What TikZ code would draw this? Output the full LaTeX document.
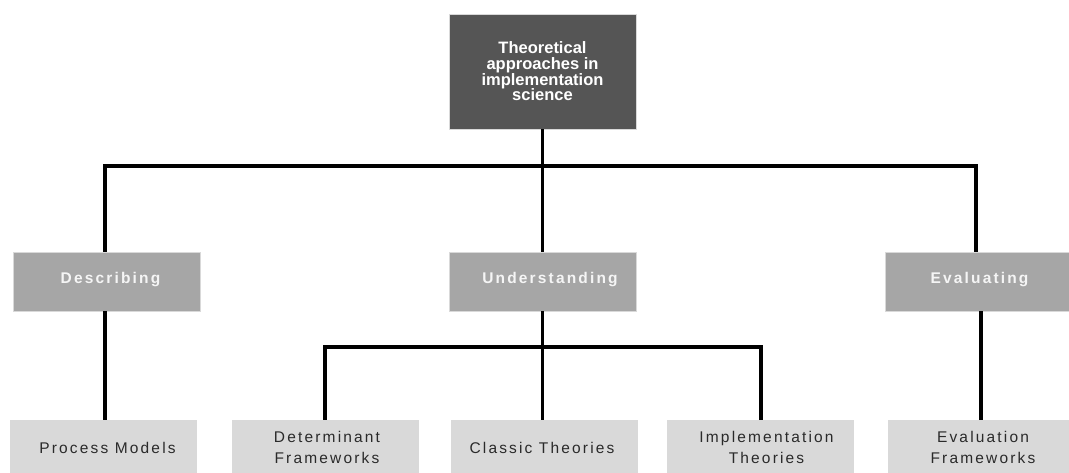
\documentclass[tikz,border=0pt]{standalone}
\usepackage{fontspec}
\setmainfont{Liberation Sans}
\newfontfamily\spacedfont[LetterSpace=14]{Liberation Sans}
\definecolor{topfill}{HTML}{555555}
\definecolor{midfill}{HTML}{A6A6A6}
\definecolor{lowfill}{HTML}{D9D9D9}
\definecolor{lowtext}{HTML}{2A2A2A}
\begin{document}
\begin{tikzpicture}[x=1pt,y=-1pt,
  topbox/.style={fill=topfill, draw=white!85!black, line width=0.6pt, minimum width=187pt, minimum height=115pt, inner sep=0pt,
     text=white, align=center, font=\fontsize{16.5}{15.7}\selectfont\bfseries},
  midbox/.style={fill=midfill, draw=white!85!black, line width=0.6pt, minimum width=187pt, minimum height=59pt, inner sep=0pt},
  lowbox/.style={fill=lowfill, draw=none, minimum width=187pt, minimum height=55pt, inner sep=0pt},
  midlbl/.style={text=white!96!black, inner sep=0pt, font=\fontsize{15.5}{21}\spacedfont\bfseries},
  lowlbl/.style={text=lowtext, inner sep=0pt, align=center, font=\fontsize{15.5}{21.3}\spacedfont},
  conn/.style={line width=3.2pt, line cap=butt}
]
\useasboundingbox (0,0) rectangle (1069,472);

% nodes
\node[topbox] (top) at (542.5,71.5) {Theoretical\\approaches in\\implementation\\science};

\node[midbox, label={[midlbl, xshift=4pt, yshift=2pt]center:Describing}] (desc) at (106.5,281.5) {};
\node[midbox, label={[midlbl, xshift=7.5pt, yshift=2pt]center:Understanding}] (und) at (542.5,281.5) {};
\node[midbox, label={[midlbl, xshift=1pt, yshift=2pt]center:Evaluating}] (eval) at (978.5,281.5) {};

\node[lowbox, label={[lowlbl, xshift=4pt]center:Process Models}] (pm) at (103.5,447.5) {};
\node[lowbox, label={[lowlbl, xshift=2pt]center:Determinant\\Frameworks}] (det) at (325,447.5) {};
\node[lowbox, label={[lowlbl, xshift=-2.5pt]center:Classic Theories}] (cls) at (544.5,447.5) {};
\node[lowbox, label={[lowlbl, xshift=6pt]center:Implementation\\Theories}] (imp) at (760.5,447.5) {};
\node[lowbox, label={[lowlbl, xshift=1.5pt]center:Evaluation\\Frameworks}] (ef) at (981.5,447.5) {};

% bus coordinates
\coordinate (busL) at (105,166);
\coordinate (busR) at (976,166);
\coordinate (bus2L) at (325,347);
\coordinate (bus2R) at (761,347);
\coordinate (evx) at (981,0);

% connectors
\draw[conn] (top.south) -- (und.north);
\draw[conn] (busL |- desc.north) -- (busL) -- (busR) -- (busR |- eval.north);
\draw[conn] (busL |- desc.south) -- (busL |- pm.north);
\draw[conn] (und.south) -- (und.south |- cls.north);
\draw[conn] (det.north) -- (bus2L) -- (bus2R) -- (bus2R |- imp.north);
\draw[conn] (evx |- eval.south) -- (evx |- ef.north);
\end{tikzpicture}
\end{document}
